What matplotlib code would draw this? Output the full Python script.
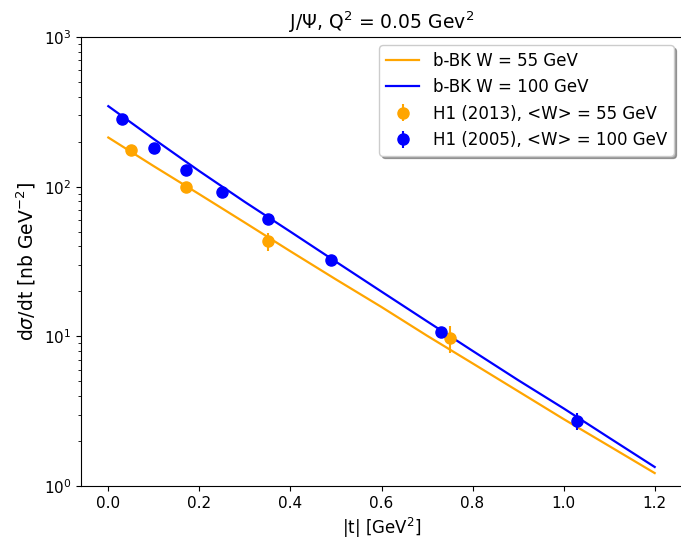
import matplotlib
matplotlib.use("Agg")
import matplotlib.pyplot as plt

# b-BK model curves, d sigma/dt versus |t|
t_model = [0.0, 0.1, 0.2, 0.3, 0.4, 0.5, 0.6, 0.7, 0.8, 0.9, 1.0, 1.1, 1.2]
bk_w55 = [213, 137, 89, 57.5, 37, 24, 15.7, 10.1, 6.6, 4.3, 2.8, 1.85, 1.22]
bk_w100 = [345, 208, 127, 79, 50, 31.5, 19.9, 12.6, 8.0, 5.1, 3.3, 2.1, 1.34]

# H1 data
h1_2013_t = [0.05, 0.17, 0.35, 0.75]
h1_2013_y = [176, 99.4, 43.3, 9.74]
h1_2013_err = [8, 6, 6, 2.0]

h1_2005_t = [0.03, 0.10, 0.17, 0.25, 0.35, 0.49, 0.73, 1.03]
h1_2005_y = [283, 181, 129, 92, 60.8, 32.3, 10.7, 2.72]
h1_2005_err = [14, 9, 7, 5, 3.5, 2.0, 0.8, 0.35]

fig = plt.figure(figsize=(6.81, 5.45), dpi=100)
ax = fig.add_axes([81 / 681, 59 / 545, 601 / 681, 449 / 545])

ax.plot(t_model, bk_w55, color="orange", lw=1.6, label="b-BK W = 55 GeV")
ax.plot(t_model, bk_w100, color="blue", lw=1.6, label="b-BK W = 100 GeV")
ax.errorbar(h1_2013_t, h1_2013_y, yerr=h1_2013_err, fmt="o", color="orange",
            markersize=8, label="H1 (2013), <W> = 55 GeV")
ax.errorbar(h1_2005_t, h1_2005_y, yerr=h1_2005_err, fmt="o", color="blue",
            markersize=8, label="H1 (2005), <W> = 100 GeV")

ax.set_yscale("log")
ax.set_ylim(1, 1000)
ax.set_xlim(-0.06, 1.26)
ax.set_title(r"J/$\Psi$, Q$^2$ = 0.05 Gev$^2$", fontsize=13.5)
ax.set_xlabel(r"|t| [GeV$^2$]", fontsize=12)
ax.set_ylabel(r"d$\sigma$/dt [nb GeV$^{-2}$]", fontsize=13.5)
ax.tick_params(labelsize=11)
ax.legend(loc="upper right", shadow=True, fontsize=12)

fig.savefig("out.png", dpi=100)
